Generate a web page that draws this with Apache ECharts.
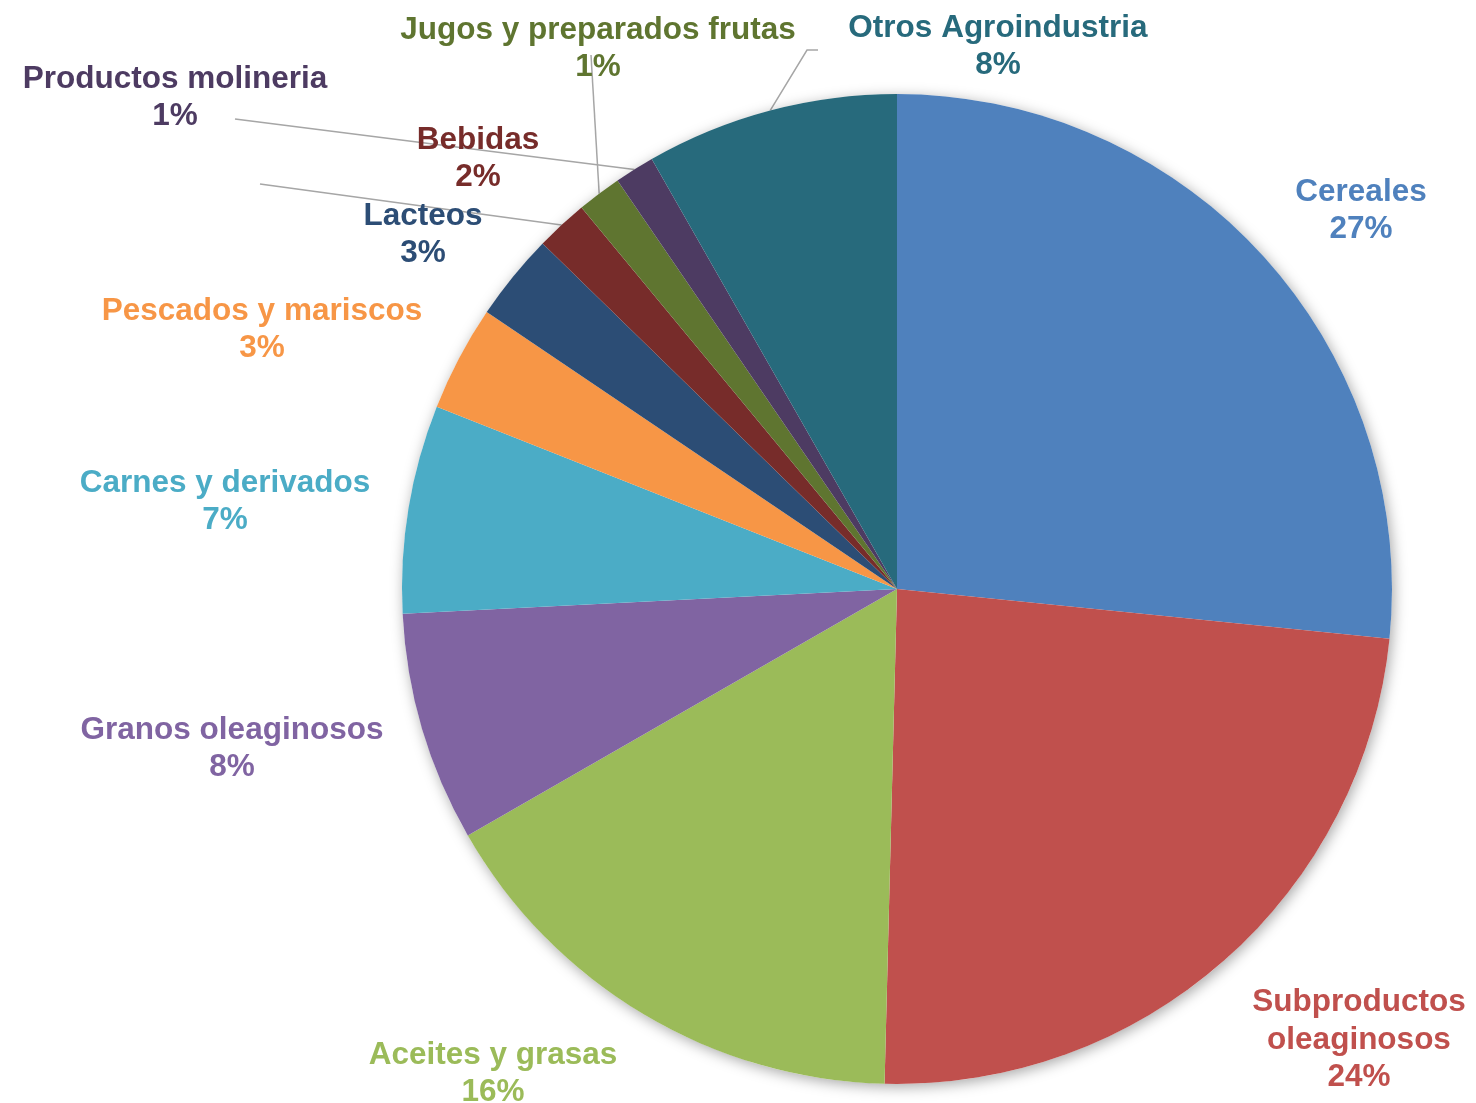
<!DOCTYPE html>
<html>
<head>
<meta charset="utf-8">
<script src="https://cdn.jsdelivr.net/npm/echarts@6/dist/echarts.min.js"></script>
<style>
  html, body { margin: 0; padding: 0; background: #FFFFFF; }
  #chart { width: 1476px; height: 1103px; }
</style>
</head>
<body>
<div id="chart"></div>
<script>
const categories = [
  'Cereales',
  'Subproductos\noleaginosos',
  'Aceites y grasas',
  'Granos oleaginosos',
  'Carnes y derivados',
  'Pescados y mariscos',
  'Lacteos',
  'Bebidas',
  'Jugos y preparados frutas',
  'Productos molineria',
  'Otros Agroindustria',
];
const shares = [26.6, 23.8, 16.3, 7.5, 6.8, 3.45, 2.85, 1.7, 1.45, 1.3, 8.25];
const colors = [
  '#4F81BD', '#C0504D', '#9BBB59', '#8064A2', '#4BACC6', '#F79646',
  '#2C4D75', '#772C2A', '#5F7530', '#4D3B62', '#276A7C',
];

// label centres (x, y) as placed in the original
const labelPos = [
  [1361, 211], [1359, 1040], [493, 1074], [232, 749], [225, 502], [262, 330],
  [423, 235], [478, 159], [598, 49], [175, 98], [998, 47],
];
// leader line end points for the labels that have one
const leaders = {
  7: [[260, 184]],
  8: [[591, 55]],
  9: [[235, 119]],
  10: [[807, 50], [818, 50]],
};

const CX = 897, CY = 589, R = 495;
const total = shares.reduce((s, v) => s + v, 0);

function edgePoint(i) {
  let before = 0;
  for (let k = 0; k < i; k++) before += shares[k];
  const mid = (before + shares[i] / 2) / total * Math.PI * 2;
  return [CX + R * Math.sin(mid), CY - R * Math.cos(mid)];
}

const chart = echarts.init(document.getElementById('chart'));

const data = categories.map((name, i) => ({
  name,
  value: shares[i],
  itemStyle: { color: colors[i] },
  label: { color: colors[i] },
  labelLine: { show: !!leaders[i] },
}));

chart.setOption({
  animation: false,
  series: [
    {
      // soft shadow behind the whole pie
      type: 'pie',
      silent: true,
      center: [CX, CY],
      radius: [0, R],
      label: { show: false },
      labelLine: { show: false },
      itemStyle: {
        color: '#FFFFFF',
        shadowBlur: 14,
        shadowColor: 'rgba(0,0,0,0.35)',
        shadowOffsetX: 2,
        shadowOffsetY: 3,
      },
      data: [{ value: 1 }],
    },
    {
      type: 'pie',
      center: [CX, CY],
      radius: [0, R],
      startAngle: 90,
      clockwise: true,
      avoidLabelOverlap: false,
      itemStyle: { borderWidth: 0 },
      label: {
        show: true,
        position: 'outside',
        fontFamily: 'Liberation Sans, Arial, sans-serif',
        fontWeight: 'bold',
        fontSize: 31.5,
        lineHeight: 37.5,
        align: 'center',
        formatter: (p) => `${p.name}\n${Math.round(p.value / total * 100)}%`,
      },
      labelLine: {
        show: true,
        lineStyle: { color: '#A6A6A6', width: 1.5 },
      },
      labelLayout: (params) => {
        const i = params.dataIndex;
        const out = {
          x: labelPos[i][0],
          y: labelPos[i][1],
          align: 'center',
          verticalAlign: 'middle',
        };
        if (leaders[i]) {
          out.labelLinePoints = [edgePoint(i)].concat(leaders[i]);
        }
        return out;
      },
      data,
    },
  ],
});
</script>
</body>
</html>
